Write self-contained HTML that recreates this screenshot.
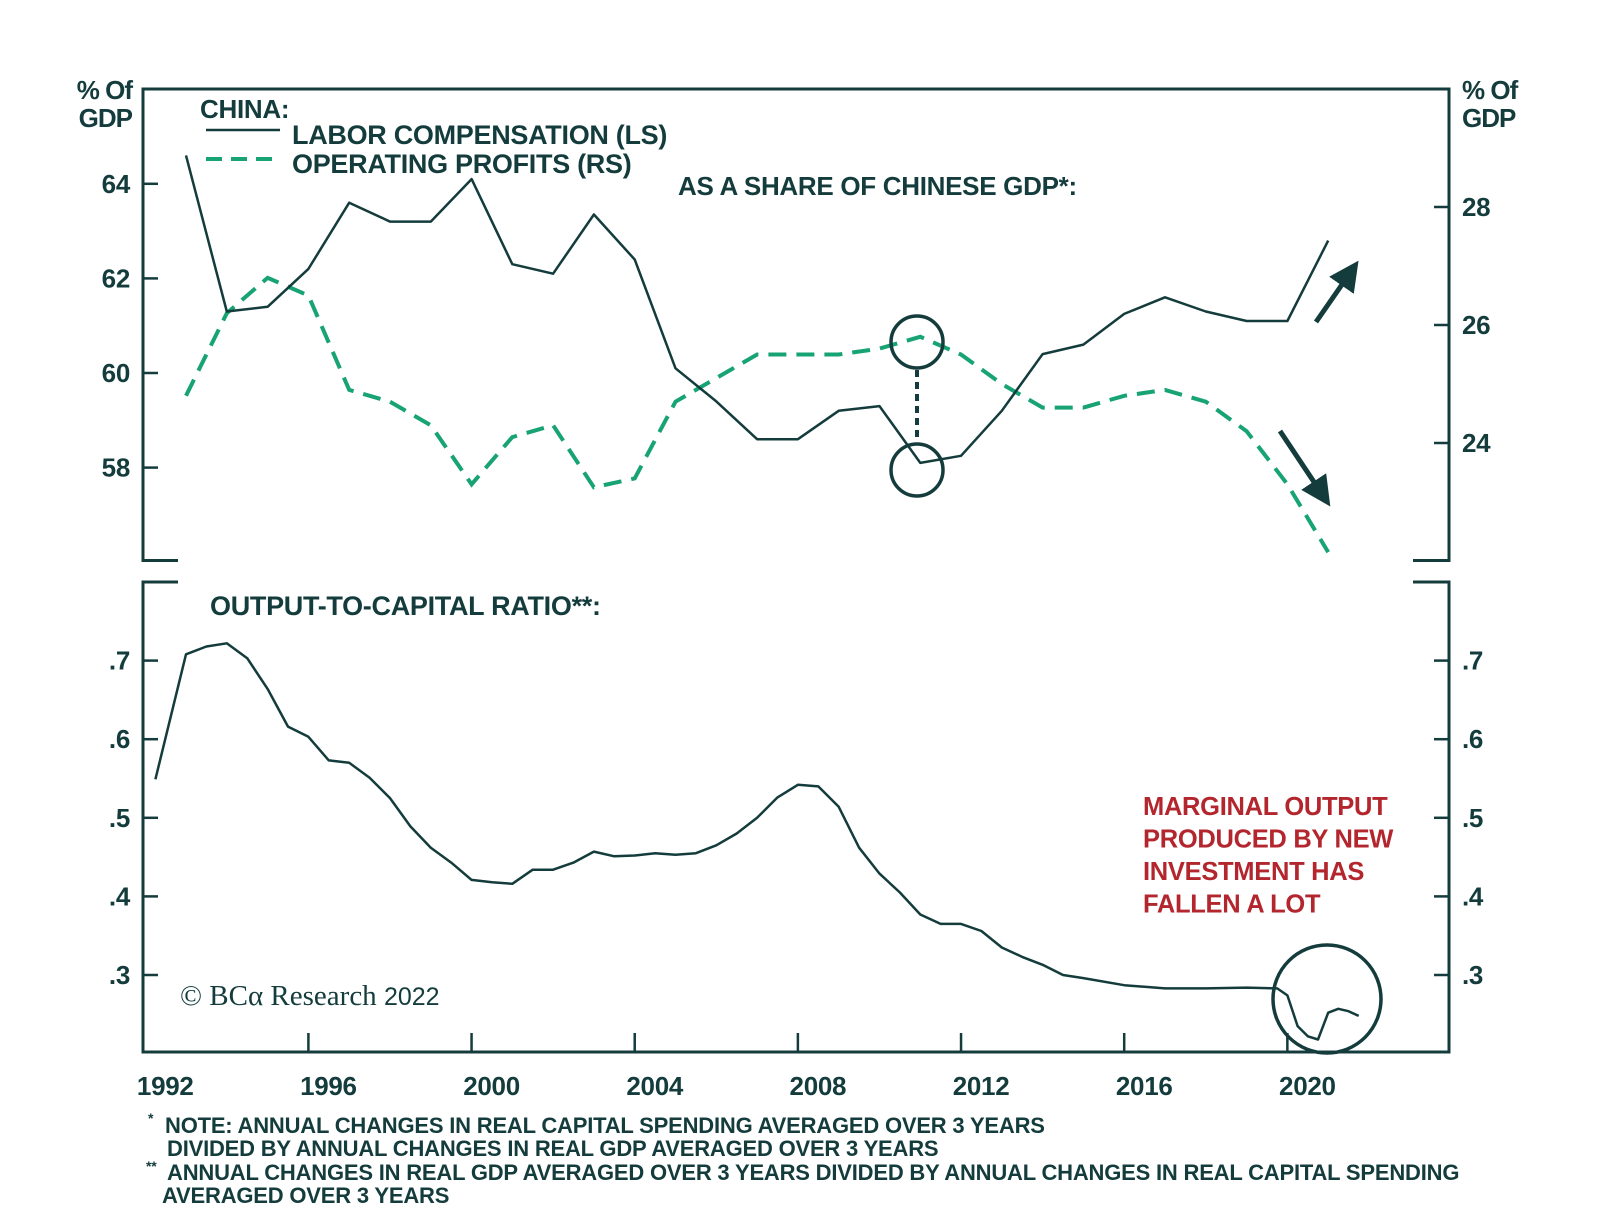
<!DOCTYPE html>
<html><head><meta charset="utf-8"><style>
html,body{margin:0;padding:0;background:#fff;}
svg{display:block;font-family:"Liberation Sans",sans-serif;}
</style></head><body>
<svg id="chart" width="1600" height="1221" viewBox="0 0 1600 1221" xmlns="http://www.w3.org/2000/svg"></svg>
<script>
const years = [1993,1994,1995,1996,1997,1998,1999,2000,2001,2002,2003,2004,2005,2006,2007,2008,2009,2010,2011,2012,2013,2014,2015,2016,2017,2018,2019,2020,2021];
const laborComp = [64.6,61.3,61.4,62.2,63.6,63.2,63.2,64.1,62.3,62.1,63.35,62.4,60.1,59.4,58.6,58.6,59.2,59.3,58.1,58.25,59.2,60.4,60.6,61.25,61.6,61.3,61.1,61.1,62.8];
const opProfits = [24.8,26.2,26.8,26.5,24.9,24.7,24.3,23.3,24.1,24.3,23.25,23.4,24.7,25.1,25.5,25.5,25.5,25.6,25.8,25.5,25.0,24.6,24.6,24.8,24.9,24.7,24.2,23.3,22.15];
const ratioYears = [1992.25,1993,1993.5,1994,1994.5,1995,1995.5,1996,1996.5,1997,1997.5,1998,1998.5,1999,1999.5,2000,2000.5,2001,2001.5,2002,2002.5,2003,2003.5,2004,2004.5,2005,2005.5,2006,2006.5,2007,2007.5,2008,2008.5,2009,2009.5,2010,2010.5,2011,2011.5,2012,2012.5,2013,2013.5,2014,2014.5,2015,2016,2017,2018,2019,2019.75,2020,2020.25,2020.5,2020.75,2021,2021.25,2021.5,2021.75];
const ratioValues = [0.549,0.708,0.718,0.722,0.703,0.664,0.616,0.603,0.573,0.57,0.551,0.525,0.489,0.462,0.443,0.421,0.418,0.416,0.434,0.434,0.443,0.457,0.451,0.452,0.455,0.453,0.455,0.465,0.48,0.5,0.526,0.542,0.54,0.514,0.462,0.429,0.405,0.377,0.365,0.365,0.356,0.335,0.323,0.313,0.3,0.296,0.287,0.283,0.283,0.284,0.283,0.274,0.235,0.222,0.218,0.252,0.257,0.254,0.248];
const leftTicks = [64,62,60,58];
const rightTicks = [28,26,24];
const ratioTicks = [0.7,0.6,0.5,0.4,0.3];
const ratioTickLabels = [".7",".6",".5",".4",".3"];
const xTicks = [1992,1996,2000,2004,2008,2012,2016,2020];

const C = '#143c3c', G = '#17a374';
const X = y => 308.4 + 40.79*(y-1996);
const YL = v => 183.8 + (64-v)*47.3;
const YR = v => 207 + (28-v)*59.0;
const YB = v => 660.6 + (0.7-v)*786;
const svg = document.getElementById('chart');
const NS = 'http://www.w3.org/2000/svg';
function mk(tag, attrs, parent){const e=document.createElementNS(NS,tag);for(const k in attrs)e.setAttribute(k,attrs[k]);(parent||svg).appendChild(e);return e;}
function txt(s,x,y,attrs){const e=mk('text',Object.assign({x:x,y:y,fill:C,'font-size':26,'font-weight':'bold','letter-spacing':'-0.3'},attrs||{}));e.textContent=s;return e;}

let e;
e=mk('path',{d:'M178,560.5 H143 V89 H1449 V560.5 H1413',fill:'none',stroke:C,'stroke-width':3});


e=mk('path',{d:'M178,582 H143 V1052 H1449 V582 H1413',fill:'none',stroke:C,'stroke-width':3});



for(const [x,anchor,nm] of [[132,'end','left-axis-title'],[1462,'start','right-axis-title']]){
  e=txt('% Of',x,99,{'text-anchor':anchor,'font-size':26,'letter-spacing':'-1'});
  
  
  e=txt('GDP',x,127,{'text-anchor':anchor,'font-size':26,'letter-spacing':'-1'});
  
  
}
leftTicks.forEach(v=>{
  e=mk('line',{x1:143,x2:158,y1:YL(v),y2:YL(v),stroke:C,'stroke-width':2.5});
  
  
  e=txt(String(v),130,YL(v)+9,{'text-anchor':'end'});
  
  
});
rightTicks.forEach(v=>{
  e=mk('line',{x1:1434,x2:1449,y1:YR(v),y2:YR(v),stroke:C,'stroke-width':2.5});
  
  
  e=txt(String(v),1462,YR(v)+9);
  
  
});
ratioTicks.forEach((v,i)=>{
  e=mk('line',{x1:143,x2:158,y1:YB(v),y2:YB(v),stroke:C,'stroke-width':2.5});
  
  
  e=txt(ratioTickLabels[i],130,YB(v)+9,{'text-anchor':'end'});
  
  
  e=mk('line',{x1:1434,x2:1449,y1:YB(v),y2:YB(v),stroke:C,'stroke-width':2.5});
  
  
  e=txt(ratioTickLabels[i],1462,YB(v)+9);
  
  
});
xTicks.forEach(y=>{
  if(y>1992){
    e=mk('line',{x1:X(y),x2:X(y),y1:1052,y2:1033,stroke:C,'stroke-width':2.5});
    
    
  }
  e=txt(String(y),X(y)+20,1095,{'text-anchor':'middle'});
  
  
});

e=txt('CHINA:',200,118);


e=mk('line',{x1:206,x2:280,y1:130,y2:130,stroke:C,'stroke-width':2.5});


e=txt('LABOR COMPENSATION (LS)',292,144,{'font-size':27});


e=mk('line',{x1:206,x2:280,y1:159,y2:159,stroke:G,'stroke-width':4,'stroke-dasharray':'16,9'});


e=txt('OPERATING PROFITS (RS)',292,173,{'font-size':27});


e=txt('AS A SHARE OF CHINESE GDP*:',678,195,{'font-size':26});


e=txt('OUTPUT-TO-CAPITAL RATIO**:',210,615,{'font-size':27});



const pts=(xs,ys,fy)=>xs.map((x,i)=>X(x).toFixed(1)+','+fy(ys[i]).toFixed(1)).join(' ');
e=mk('polyline',{points:pts(years,opProfits,YR),fill:'none',stroke:G,'stroke-width':4,'stroke-dasharray':'18,10'});


e=mk('polyline',{points:pts(years,laborComp,YL),fill:'none',stroke:C,'stroke-width':2.5,'stroke-linejoin':'round'});


e=mk('polyline',{points:pts(ratioYears,ratioValues,YB),fill:'none',stroke:C,'stroke-width':2.5,'stroke-linejoin':'round'});



e=mk('circle',{cx:917,cy:342,r:26,fill:'none',stroke:C,'stroke-width':3.5});


e=mk('circle',{cx:917,cy:470,r:26,fill:'none',stroke:C,'stroke-width':3.5});


e=mk('line',{x1:917,x2:917,y1:370,y2:442,stroke:C,'stroke-width':4,'stroke-dasharray':'7,5'});


e=mk('circle',{cx:1327,cy:999,r:54,fill:'none',stroke:C,'stroke-width':3.5});


const defs=mk('defs',{});
const mrk=mk('marker',{id:'ah',markerWidth:6,markerHeight:6,refX:3,refY:3,orient:'auto',markerUnits:'strokeWidth'},defs);
mk('path',{d:'M0,0 L6,3 L0,6 Z',fill:C},mrk);
e=mk('line',{x1:1316,y1:322,x2:1350,y2:273,stroke:C,'stroke-width':5,'marker-end':'url(#ah)'});


e=mk('line',{x1:1280,y1:431,x2:1322,y2:494,stroke:C,'stroke-width':5,'marker-end':'url(#ah)'});



['MARGINAL OUTPUT','PRODUCED BY NEW','INVESTMENT HAS','FALLEN A LOT'].forEach((s,i)=>{
  e=txt(s,1143,815+i*32.5,{fill:'#b3262e','font-size':25.5});
  
  
});
e=mk('text',{x:180,y:1005,fill:C,'font-size':29,'font-family':'Liberation Serif, serif'});
e.textContent='© BCα Research ';


const yr=mk('tspan',{'font-family':'Liberation Sans, sans-serif','font-size':25},e);
yr.textContent='2022';

const notes=[['*',148,1123,14],['NOTE: ANNUAL CHANGES IN REAL CAPITAL SPENDING AVERAGED OVER 3 YEARS',165,1133,22],['DIVIDED BY ANNUAL CHANGES IN REAL GDP AVERAGED OVER 3 YEARS',167,1156,22],['**',146,1171,14],['ANNUAL CHANGES IN REAL GDP AVERAGED OVER 3 YEARS DIVIDED BY ANNUAL CHANGES IN REAL CAPITAL SPENDING',167,1180,22],['AVERAGED OVER 3 YEARS',162,1203,22]];
notes.forEach(n=>{
  e=txt(n[0],n[1],n[2],{'font-size':n[3],'letter-spacing':'-0.2'});
  
  
});
</script>
</body></html>
